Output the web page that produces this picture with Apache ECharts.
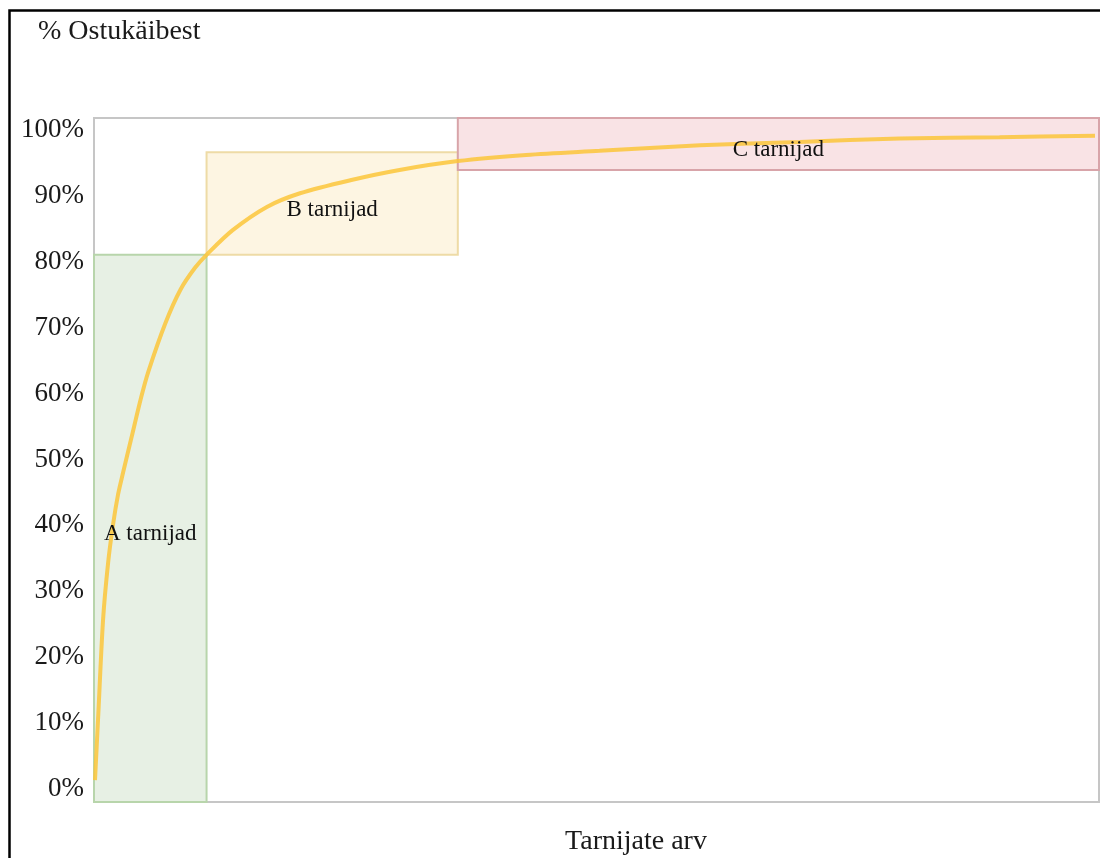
<!DOCTYPE html>
<html>
<head>
<meta charset="utf-8">
<script src="https://cdn.jsdelivr.net/npm/echarts@6/dist/echarts.min.js"></script>
<style>
  html, body { margin: 0; padding: 0; background: #fff; }
  #chart { width: 1100px; height: 858px; }
</style>
</head>
<body>
<div id="chart"></div>
<script>
// Cumulative purchase share (%) against share of suppliers (x, 0..100)
const supplierShare = [0.1, 0.4, 0.9, 1.4, 1.9, 2.4, 2.9, 3.7, 4.7, 5.4, 7.1, 8.6, 10.05, 11.2, 13.8, 17.2, 20.5, 25.5, 30.4, 36.2, 43.0, 50.3, 60.3, 70.2, 80.2, 90.1, 99.6];
const cumulativeShare = [3.2, 12.0, 26.6, 34.9, 40.6, 45.0, 48.2, 53.1, 59.2, 62.9, 70.0, 74.9, 78.1, 80.0, 83.6, 87.0, 89.0, 90.9, 92.4, 93.7, 94.6, 95.2, 96.0, 96.5, 97.0, 97.2, 97.4];

// ABC supplier groups
const tierNames = ['A tarnijad', 'B tarnijad', 'C tarnijad'];
const tierXFrom = [0, 11.2, 36.2];
const tierXTo = [11.2, 36.2, 100];
const tierYFrom = [0, 80, 92.4];
const tierYTo = [80, 95, 100];
const tierFill = ['#e7f0e4', '#fdf5e2', '#f9e3e5'];
const tierBorder = ['#b8d5ab', '#eedba6', '#d8a4a9'];

// Axis tick labels
const yTicks = [0, 10, 20, 30, 40, 50, 60, 70, 80, 90, 100];
const yTitle = '% Ostukäibest';
const xTitle = 'Tarnijate arv';

const serif = '"Liberation Serif", "Times New Roman", serif';

const chart = echarts.init(document.getElementById('chart'), null, { renderer: 'canvas' });

const areas = tierNames.map((name, i) => [
  {
    xAxis: tierXFrom[i], yAxis: tierYFrom[i],
    itemStyle: { color: tierFill[i], borderColor: tierBorder[i], borderWidth: 2 }
  },
  { xAxis: tierXTo[i], yAxis: tierYTo[i] }
]);

// Group names sit in the middle of each box
const tierLabels = tierNames.map((name, i) => ({
  name: name,
  value: [(tierXFrom[i] + tierXTo[i]) / 2, (tierYFrom[i] + tierYTo[i]) / 2]
}));

chart.setOption({
  animation: false,
  backgroundColor: '#fff',
  grid: [
    { left: 94, right: 1, top: 118, bottom: 56, show: true, borderColor: '#c6c6c6', borderWidth: 2, backgroundColor: 'transparent' },
    { left: 94, width: 1, top: 130, height: 659, show: false }
  ],
  xAxis: [
    { gridIndex: 0, type: 'value', min: 0, max: 100,
      axisLine: { show: true, lineStyle: { color: '#c6c6c6', width: 2 } },
      axisTick: { show: false }, axisLabel: { show: false }, splitLine: { show: false } },
    { gridIndex: 1, type: 'value', min: 0, max: 1, show: false }
  ],
  yAxis: [
    { gridIndex: 0, type: 'value', min: 0, max: 100,
      axisLine: { show: true, lineStyle: { color: '#c6c6c6', width: 2 } },
      axisTick: { show: false }, axisLabel: { show: false }, splitLine: { show: false } },
    { gridIndex: 1, type: 'value', min: yTicks[0], max: yTicks[yTicks.length - 1], interval: 10,
      axisLine: { show: false }, axisTick: { show: false }, splitLine: { show: false },
      axisLabel: { show: true, margin: 10, color: '#1a1a1a', fontFamily: serif, fontSize: 27,
        formatter: v => v + '%' } }
  ],
  series: [
    {
      // boxes for the A / B / C groups
      type: 'line',
      xAxisIndex: 0, yAxisIndex: 0,
      data: [],
      z: 1,
      markArea: { silent: true, label: { show: false }, data: areas }
    },
    {
      type: 'line',
      xAxisIndex: 0, yAxisIndex: 0,
      data: supplierShare.map((x, i) => [x, cumulativeShare[i]]),
      smooth: 0.3,
      symbol: 'none',
      lineStyle: { color: '#fcc53a', width: 4, opacity: 0.85 },
      z: 5
    },
    {
      type: 'scatter',
      xAxisIndex: 0, yAxisIndex: 0,
      data: tierLabels,
      symbolSize: 0,
      silent: true,
      z: 10,
      itemStyle: { opacity: 1, color: 'transparent' },
      label: { show: true, position: 'inside', offset: [0, 6], formatter: p => p.name,
        color: '#111', opacity: 1, fontFamily: serif, fontSize: 23 }
    }
  ],
  graphic: [
    { type: 'rect', silent: true, z: 100,
      shape: { x: 9.5, y: 10.5, width: 1200, height: 1000 },
      style: { fill: 'none', stroke: '#000', lineWidth: 2.5 } },
    { type: 'text', silent: true, left: 38, top: 18,
      style: { text: yTitle, fill: '#1a1a1a', font: '28px ' + serif } },
    { type: 'text', silent: true, x: 636, y: 842,
      style: { text: xTitle, fill: '#1a1a1a', font: '28px ' + serif, textAlign: 'center', textVerticalAlign: 'middle' } }
  ]
});
</script>
</body>
</html>
